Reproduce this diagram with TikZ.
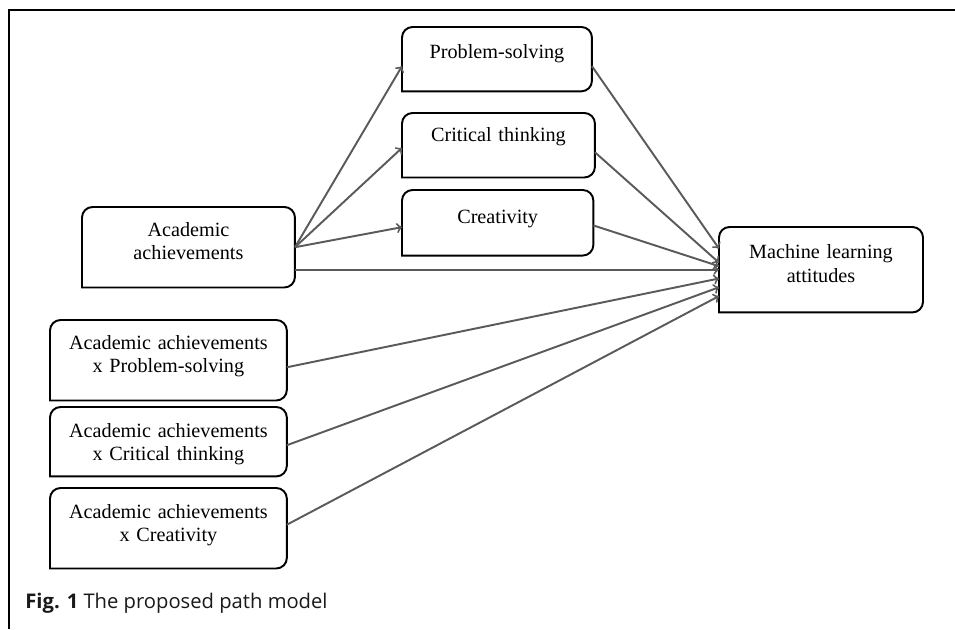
\documentclass[tikz,border=0pt]{standalone}
\usepackage{fontspec}
\setmainfont{Liberation Serif}
\newfontfamily\capfont{Open Sans}
\usetikzlibrary{calc}

\definecolor{linegray}{RGB}{90,90,90}

\begin{document}
\begin{tikzpicture}[x=0.02cm, y=-0.02cm,
    pbox/.style={inner sep=0pt, align=center, anchor=north west,
        font=\fontsize{11.5}{13.5}\selectfont},
    link/.style={->, draw=linegray, line width=1.1pt}]
    \useasboundingbox (0,0) rectangle (955,629);
    \draw[line width=1.3pt] (9,629) -- (9,10) -- (955,10);
    % predictor and outcome
    \node[pbox, text width=120.8pt, text height=16.4pt, text depth=29pt] (aa) at (82,207) {Academic\\achievements};
    \node[pbox, text width=115.7pt, text height=18pt, text depth=30.2pt] (ml) at (719,227) {Machine learning\\attitudes};
    % mediators
    \node[pbox, text width=107.7pt, text height=18pt, text depth=18.2pt] (ps) at (402,27) {Problem-solving};
    \node[pbox, text width=109.4pt, text height=16pt, text depth=20.3pt] (ct) at (402,113) {Critical thinking};
    \node[pbox, text width=108.5pt, text height=18.7pt, text depth=18.2pt] (cr) at (402,190) {Creativity};
    % interaction terms
    \node[pbox, text width=134.4pt, text height=16.4pt, text depth=29pt] (ap) at (50,320) {Academic achievements\\x Problem-solving};
    \node[pbox, text width=134.4pt, text height=17pt, text depth=22.1pt] (act) at (50,407) {Academic achievements\\x Critical thinking};
    \node[pbox, text width=134.4pt, text height=17pt, text depth=28.4pt] (acr) at (50,488) {Academic achievements\\x Creativity};
    \foreach \n in {aa,ml,ps,ct,cr,ap,act,acr}
        \draw[line width=1.1pt, rounded corners=6pt] (\n.south west) -- (\n.north west) -- (\n.north east) -- (\n.south east) [sharp corners] -- cycle;
    % paths
    \draw[link] (aa.east) -- ([yshift=-4pt]ps.west);
    \draw[link] (aa.east) -- ([yshift=-1.5pt]ct.west);
    \draw[link] (aa.east) -- ([yshift=-2.5pt]cr.west);
    \draw[link] (aa.east |- ml.west) -- (ml.west);
    \draw[link] ([yshift=-4pt]ps.east) -- ([yshift=12pt]ml.west);
    \draw[link] ([yshift=-4pt]ct.east) -- ([yshift=4pt]ml.west);
    \draw[link] ([yshift=-1.5pt]cr.east) -- ([yshift=2pt]ml.west);
    \draw[link] ([yshift=-4pt]ap.east) -- ([yshift=-5pt]ml.west);
    \draw[link] ([yshift=-2pt]act.east) -- ([yshift=-10pt]ml.west);
    \draw[link] ([yshift=2pt]acr.east) -- ([yshift=-15pt]ml.west);
    % caption
    \node[anchor=west, inner sep=0pt, font=\capfont\fontsize{11.5}{13.5}\selectfont, text=black!90] (cap) at (25,603) {\textbf{Fig. 1} The proposed path model};
\end{tikzpicture}
\end{document}
